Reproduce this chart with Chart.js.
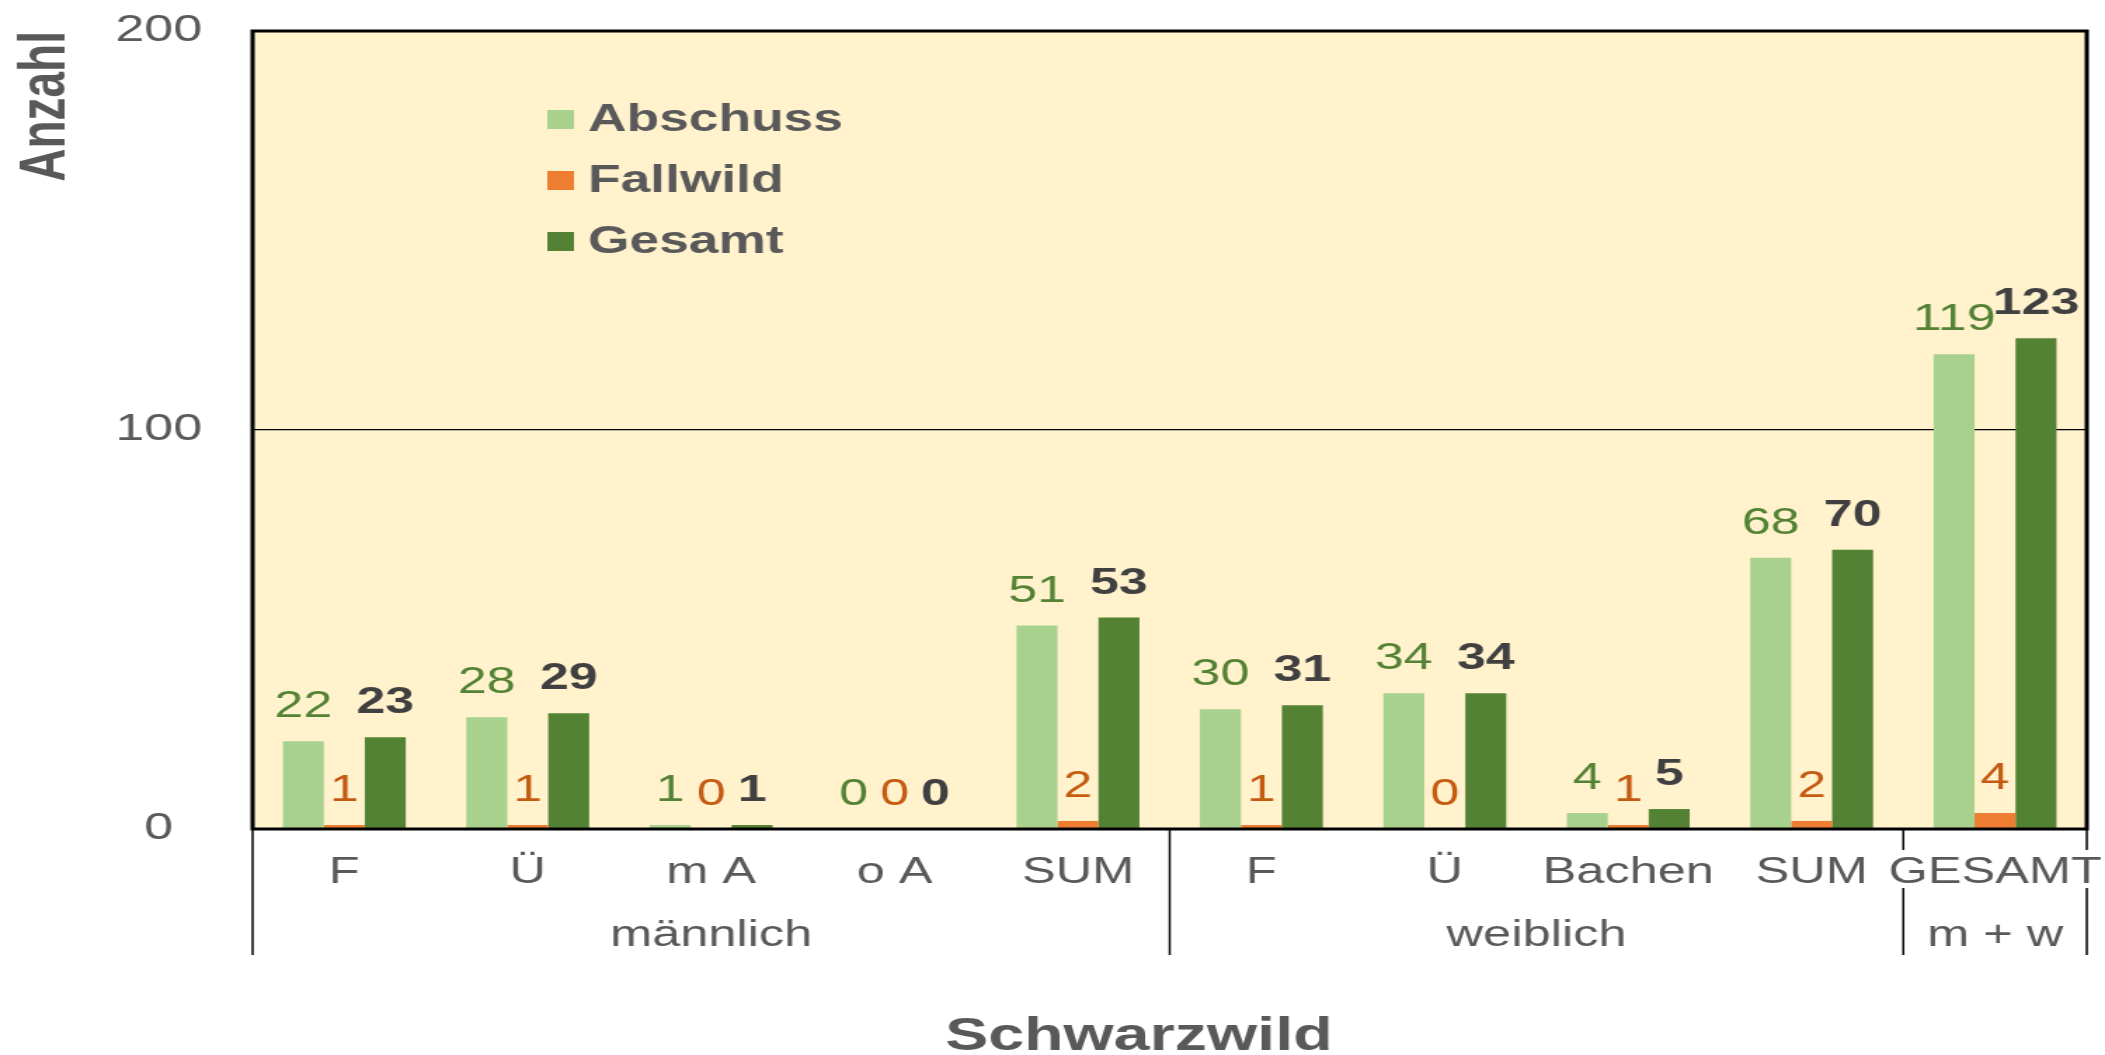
<!DOCTYPE html>
<html lang="de">
<head>
    <meta charset="UTF-8">
    <title>Schwarzwild: Abschuss und Fallwild</title>
    <script src="https://cdn.jsdelivr.net/npm/chart.js@4/dist/chart.umd.min.js"></script>
    <style>
        html, body {
            margin: 0;
            padding: 0;
            background: #fff;
            overflow: hidden;
        }
        #wrap {
            width: 2105px;
            height: 1055px;
            overflow: hidden;
        }
        /* the original picture is stretched sideways, so the canvas is too */
        #chart {
            transform: scaleX(1.40333);
            transform-origin: 0 0;
        }
    </style>
</head>
<body>

<div id="wrap">
    <canvas id="chart" width="1500" height="1055"></canvas>
</div>

<script>
    const categories = ['F', 'Ü', 'm A', 'o A', 'SUM', 'F', 'Ü', 'Bachen', 'SUM', 'GESAMT'];
    const groupLabels = ['männlich', 'weiblich', 'm + w'];
    const groupSizes = [5, 4, 1];

    const abschuss = [22, 28, 1, 0, 51, 30, 34, 4, 68, 119];
    const fallwild = [1, 1, 0, 0, 2, 1, 0, 1, 2, 4];
    const gesamt = [23, 29, 1, 0, 53, 31, 34, 5, 70, 123];

    const yMin = 0;
    const yMax = 200;
    const yStep = 100;

    const FONT = "'Liberation Sans', Arial, sans-serif";
    const GREY = '#595959';

    // background, value labels, two-row category axis, legend, x title
    const decor = {
        id: 'decor',
        beforeDraw(chart) {
            const { ctx, chartArea: a } = chart;
            ctx.save();
            ctx.fillStyle = '#FFF2CC';
            ctx.fillRect(a.left, a.top, a.right - a.left, a.bottom - a.top);
            ctx.restore();
        },
        afterDatasetsDraw(chart) {
            const ctx = chart.ctx;
            ctx.save();
            ctx.textAlign = 'center';
            ctx.textBaseline = 'alphabetic';
            chart.data.datasets.forEach((ds, i) => {
                ctx.font = (ds.labelBold ? 'bold ' : '') + '37px ' + FONT;
                ctx.fillStyle = ds.labelColor;
                chart.getDatasetMeta(i).data.forEach((bar, j) => {
                    ctx.fillText(String(ds.data[j]), bar.x, bar.y - 24);
                });
            });
            ctx.restore();
        },
        afterDraw(chart) {
            const { ctx, chartArea: a } = chart;
            const x = chart.scales.x;
            const step = x.getPixelForValue(1) - x.getPixelForValue(0);
            const row1 = a.bottom + 44;
            const row2 = a.bottom + 107;
            const sepEnd = a.bottom + 126;

            ctx.save();

            // plot frame
            ctx.strokeStyle = '#000';
            ctx.lineWidth = 3;
            ctx.strokeRect(a.left, a.top, a.right - a.left, a.bottom - a.top);

            // first row: categories
            ctx.font = '36px ' + FONT;
            ctx.fillStyle = GREY;
            ctx.textAlign = 'center';
            ctx.textBaseline = 'middle';
            categories.forEach((c, i) => ctx.fillText(c, x.getPixelForValue(i), row1));

            // group separators
            const edges = [0];
            groupSizes.forEach(n => edges.push(edges[edges.length - 1] + n));
            ctx.lineWidth = 1.5;
            edges.forEach(e => {
                const px = x.getPixelForValue(e) - step / 2;
                const hit = [e - 1, e].some(i =>
                    i >= 0 && i < categories.length &&
                    ctx.measureText(categories[i]).width / 2 > step / 2);
                ctx.beginPath();
                ctx.moveTo(px, a.bottom);
                if (hit) {
                    ctx.lineTo(px, row1 - 23);
                    ctx.moveTo(px, row1 + 15);
                }
                ctx.lineTo(px, sepEnd);
                ctx.stroke();
            });

            // second row: groups
            groupLabels.forEach((g, k) => {
                const mid = x.getPixelForValue((edges[k] + edges[k + 1] - 1) / 2);
                ctx.fillText(g, mid, row2);
            });

            // legend inside the plot
            ctx.font = 'bold 38px ' + FONT;
            ctx.textAlign = 'left';
            chart.data.datasets.forEach((ds, i) => {
                const yy = a.top + 90 + i * 61;
                ctx.fillStyle = ds.backgroundColor;
                ctx.fillRect(a.left + 210, yy - 11, 19, 19);
                ctx.fillStyle = GREY;
                ctx.fillText(ds.label, a.left + 239, yy);
            });

            // x axis title
            ctx.font = 'bold 46px ' + FONT;
            ctx.textAlign = 'center';
            ctx.fillText('Schwarzwild', (a.left + a.right) / 2 - 22, a.bottom + 208);

            ctx.restore();
        }
    };

    new Chart(document.getElementById('chart'), {
        type: 'bar',
        data: {
            labels: categories,
            datasets: [
                {
                    label: 'Abschuss',
                    data: abschuss,
                    backgroundColor: '#A9D18E',
                    labelColor: '#548235',
                    labelBold: false
                },
                {
                    label: 'Fallwild',
                    data: fallwild,
                    backgroundColor: '#ED7D31',
                    labelColor: '#C55A11',
                    labelBold: false
                },
                {
                    label: 'Gesamt',
                    data: gesamt,
                    backgroundColor: '#548235',
                    labelColor: '#404040',
                    labelBold: true
                }
            ]
        },
        options: {
            responsive: false,
            animation: false,
            devicePixelRatio: 1,
            events: [],
            categoryPercentage: 0.67,
            barPercentage: 1,
            layout: {
                padding: { top: 31, right: 13, bottom: 226, left: 0 }
            },
            plugins: {
                legend: { display: false },
                tooltip: { enabled: false }
            },
            scales: {
                x: {
                    display: false
                },
                y: {
                    min: yMin,
                    max: yMax,
                    afterFit(scale) {
                        scale.width = 180;
                        scale.paddingTop = 0;
                        scale.paddingBottom = 0;
                    },
                    ticks: {
                        stepSize: yStep,
                        padding: 36,
                        crossAlign: 'center',
                        color: GREY,
                        font: { family: FONT, size: 37 }
                    },
                    grid: {
                        color: '#000',
                        lineWidth: 1.2,
                        drawTicks: false
                    },
                    border: { display: false },
                    title: {
                        display: true,
                        text: 'Anzahl',
                        align: 'end',
                        color: GREY,
                        padding: { top: 6, bottom: 0 },
                        font: { family: FONT, size: 46, weight: 'bold' }
                    }
                }
            }
        },
        plugins: [decor]
    });
</script>

</body>
</html>
